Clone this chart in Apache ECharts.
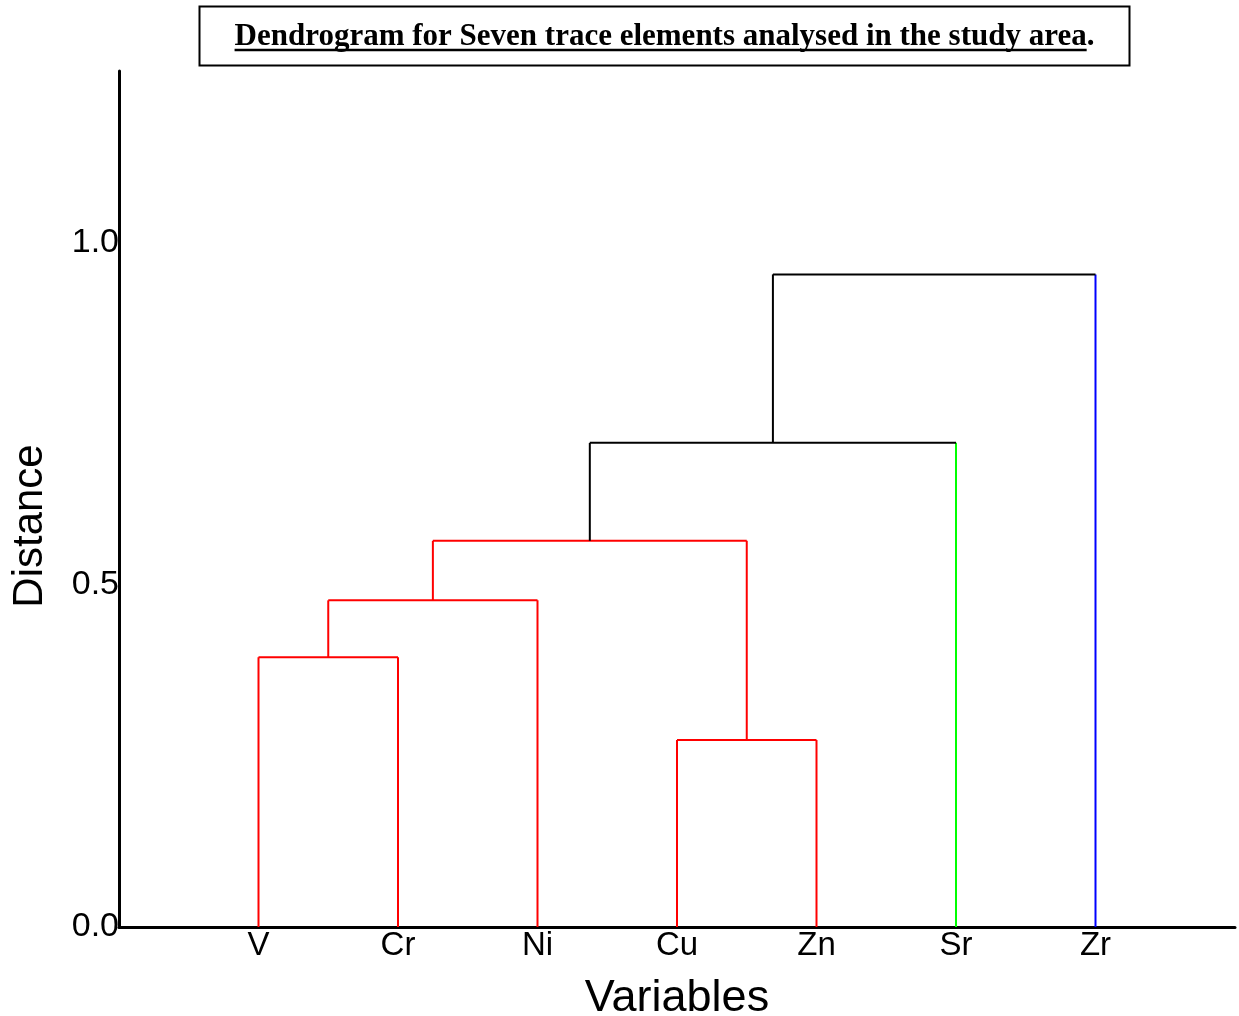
<!DOCTYPE html>
<html>
<head>
<meta charset="utf-8">
<title>Dendrogram</title>
<script src="https://cdn.jsdelivr.net/npm/echarts@6/dist/echarts.min.js"></script>
<style>
	html, body { margin: 0; padding: 0; background: #fff; }
	#chart { width: 1239px; height: 1016px; }
</style>
</head>
<body>
<div id="chart"></div>
<script>
// 叶子（变量）
const leafNames = ['V', 'Cr', 'Ni', 'Cu', 'Zn', 'Sr', 'Zr'];
const leafColors = ['#ff0000', '#ff0000', '#ff0000', '#ff0000', '#ff0000', '#00ff00', '#0000ff'];
// 合并步骤：索引 < 7 为叶子，>= 7 为第 (i-7) 次合并得到的簇
const mergeLeft = [0, 7, 3, 8, 10, 11];
const mergeRight = [1, 2, 4, 9, 5, 6];
const mergeHeight = [0.394, 0.477, 0.273, 0.564, 0.707, 0.953];
const mergeColors = ['#ff0000', '#ff0000', '#ff0000', '#ff0000', '#000000', '#000000'];
const yTickLabels = ['0.0', '0.5', '1.0'];

const TITLE = 'Dendrogram for Seven trace elements analysed in the study area';
const TITLE_FONT = 'bold 31px "Liberation Serif", "Times New Roman", serif';
const SANS = 'Arial, "Liberation Sans", sans-serif';

/**
 * 由合并步骤生成线段
 */
function buildSegments() {
	const nLeaf = leafNames.length;
	const posX = leafNames.map((_, i) => i + 1);
	const posY = leafNames.map(() => 0);
	const segs = [];
	mergeLeft.forEach((l, i) => {
		const r = mergeRight[i];
		const h = mergeHeight[i];
		const c = mergeColors[i];
		const legColor = k => (k < nLeaf ? leafColors[k] : c);
		segs.push({ color: legColor(l), data: [[posX[l], posY[l]], [posX[l], h]] });
		segs.push({ color: legColor(r), data: [[posX[r], posY[r]], [posX[r], h]] });
		segs.push({ color: c, data: [[posX[l], h], [posX[r], h]] });
		posX.push((posX[l] + posX[r]) / 2);
		posY.push(h);
	});
	return segs;
}

function measure(text, font) {
	const ctx = document.createElement('canvas').getContext('2d');
	ctx.font = font;
	return ctx.measureText(text).width;
}

const chart = echarts.init(document.getElementById('chart'));
const fullW = measure(TITLE + '.', TITLE_FONT);
const ulW = measure(TITLE, TITLE_FONT);
const titleCx = 664.5;
const ulStart = titleCx - fullW / 2;

chart.setOption({
	animation: false,
	backgroundColor: '#fff',
	grid: { left: 119, right: 4, top: 71, bottom: 89, outerBoundsMode: 'none', containLabel: false },
	xAxis: {
		type: 'value',
		min: 0,
		max: 8,
		interval: 1,
		name: 'Variables',
		nameLocation: 'middle',
		nameGap: 49,
		nameTextStyle: { fontFamily: SANS, fontSize: 45, color: '#000' },
		axisLine: { lineStyle: { color: '#000', width: 3 } },
		axisTick: { show: false },
		splitLine: { show: false },
		axisLabel: {
			margin: 2,
			color: '#000',
			fontFamily: SANS,
			fontSize: 33,
			formatter: v => leafNames[v - 1] || ''
		}
	},
	yAxis: {
		type: 'value',
		min: 0,
		max: 1.25,
		interval: 0.5,
		axisLine: { show: true, lineStyle: { color: '#000', width: 3 } },
		axisTick: { show: false },
		splitLine: { show: false },
		axisLabel: {
			margin: 0,
			color: '#000',
			fontFamily: SANS,
			fontSize: 34,
			formatter: v => yTickLabels[Math.round(v / 0.5)] || ''
		}
	},
	series: buildSegments().map(s => ({
		type: 'line',
		silent: true,
		showSymbol: false,
		z: 1,
		lineStyle: { color: s.color, width: 2 },
		data: s.data
	})),
	graphic: [
		{
			type: 'rect',
			shape: { x: 199.5, y: 6.5, width: 930, height: 59 },
			style: { fill: 'transparent', stroke: '#000', lineWidth: 2 }
		},
		{
			type: 'text',
			x: titleCx,
			y: 37,
			style: {
				text: TITLE + '.',
				font: TITLE_FONT,
				fill: '#000',
				align: 'center',
				verticalAlign: 'middle'
			}
		},
		{
			type: 'line',
			shape: { x1: ulStart, y1: 50, x2: ulStart + ulW, y2: 50 },
			style: { stroke: '#000', lineWidth: 2.5 }
		},
		{
			type: 'text',
			x: 30,
			y: 526,
			rotation: Math.PI / 2,
			style: {
				text: 'Distance',
				font: '42px ' + SANS,
				fill: '#000',
				align: 'center',
				verticalAlign: 'middle'
			}
		}
	]
});
</script>
</body>
</html>
